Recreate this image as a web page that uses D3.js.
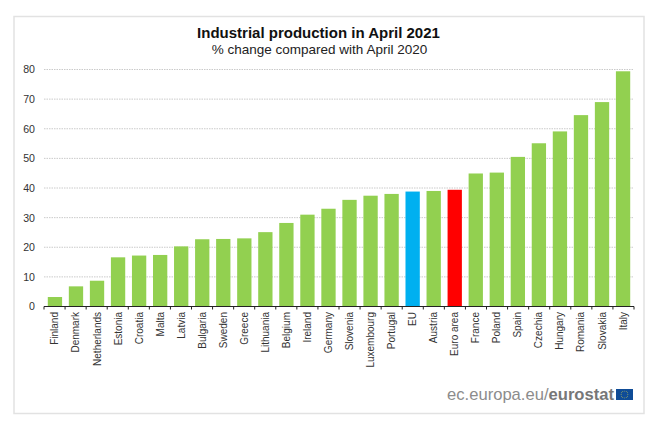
<!DOCTYPE html>
<html>
<head>
<meta charset="utf-8">
<script src="https://cdn.jsdelivr.net/npm/d3@7"></script>
<style>
  html, body { margin: 0; padding: 0; background: #fff; }
  svg { display: block; font-family: "Liberation Sans", Arial, sans-serif; }
</style>
</head>
<body>
<svg id="chart" width="659" height="427"></svg>
<script>
const countries = ['Finland', 'Denmark', 'Netherlands', 'Estonia', 'Croatia', 'Malta', 'Latvia',
  'Bulgaria', 'Sweden', 'Greece', 'Lithuania', 'Belgium', 'Ireland', 'Germany', 'Slovenia',
  'Luxembourg', 'Portugal', 'EU', 'Austria', 'Euro area', 'France', 'Poland', 'Spain', 'Czechia',
  'Hungary', 'Romania', 'Slovakia', 'Italy'];
const changes = [3.2, 6.8, 8.7, 16.6, 17.2, 17.4, 20.3, 22.7, 22.8, 23.0, 25.1, 28.2, 31.0, 33.0,
  36.0, 37.4, 38.0, 38.8, 39.0, 39.4, 44.9, 45.2, 50.5, 55.1, 59.1, 64.6, 69.0, 79.4];
const yTicks = [0, 10, 20, 30, 40, 50, 60, 70, 80];
const highlight = { 'EU': '#00b0f0', 'Euro area': '#ff0000' };

const svg = d3.select('#chart');

// outer frame
svg.append('rect')
  .attr('x', 14)
  .attr('y', 16.5)
  .attr('width', 630)
  .attr('height', 397)
  .attr('fill', '#fff')
  .attr('stroke', '#e2e2e2')
  .attr('stroke-width', 1.5);

const x = d3.scaleBand()
  .domain(countries)
  .range([44, 634])
  .paddingInner(0.32)
  .paddingOuter(0.18);

const y = d3.scaleLinear()
  .domain([0, 80])
  .range([306.5, 69.5]);

svg.append('text')
  .attr('x', 318.5)
  .attr('y', 38)
  .attr('text-anchor', 'middle')
  .attr('font-size', 15)
  .attr('font-weight', 'bold')
  .attr('fill', '#111')
  .text('Industrial production in April 2021');

svg.append('text')
  .attr('x', 319.5)
  .attr('y', 54)
  .attr('text-anchor', 'middle')
  .attr('font-size', 13.5)
  .attr('fill', '#222')
  .text('% change compared with April 2020');

// gridlines
svg.append('g')
  .selectAll('line')
  .data(yTicks.filter(d => d > 0))
  .enter()
  .append('line')
  .attr('x1', 44)
  .attr('x2', 634)
  .attr('y1', d => y(d))
  .attr('y2', d => y(d))
  .attr('stroke', '#bdbdbd')
  .attr('stroke-width', 0.8)
  .attr('stroke-dasharray', '1.5 1');

svg.append('g')
  .selectAll('rect')
  .data(countries)
  .enter()
  .append('rect')
  .attr('x', d => x(d))
  .attr('y', (d, i) => y(changes[i]))
  .attr('width', x.bandwidth())
  .attr('height', (d, i) => y(0) - y(changes[i]))
  .attr('fill', d => highlight[d] || '#92d050');

const yAxis = d3.axisLeft(y)
  .tickValues(yTicks)
  .tickSize(0)
  .tickPadding(9);
const yAxisG = svg.append('g')
  .attr('transform', 'translate(44, 0)')
  .call(yAxis);
yAxisG.select('.domain').remove();
yAxisG.selectAll('text')
  .attr('font-size', 10.6)
  .attr('font-family', '"Liberation Sans", Arial, sans-serif')
  .attr('fill', '#333');

// category axis: ticks sit between the bars, labels run bottom to top
svg.append('line')
  .attr('x1', 44)
  .attr('x2', 634)
  .attr('y1', y(0))
  .attr('y2', y(0))
  .attr('stroke', '#222')
  .attr('stroke-width', 1);

const step = (634 - 44) / countries.length;
svg.append('g')
  .selectAll('line')
  .data(countries.concat(['end']))
  .enter()
  .append('line')
  .attr('x1', (d, i) => 44 + i * step)
  .attr('x2', (d, i) => 44 + i * step)
  .attr('y1', y(0))
  .attr('y2', y(0) + 3)
  .attr('stroke', '#222')
  .attr('stroke-width', 1);

svg.append('g')
  .selectAll('text')
  .data(countries)
  .enter()
  .append('text')
  .attr('transform', d => `translate(${x(d) + x.bandwidth() / 2 + 3.5}, 312) rotate(-90)`)
  .attr('text-anchor', 'end')
  .attr('font-size', 10)
  .attr('fill', '#333')
  .text(d => d);

// eurostat logo
const logo = svg.append('text')
  .attr('x', 614)
  .attr('y', 400)
  .attr('text-anchor', 'end')
  .attr('font-size', 16.6)
  .attr('fill', '#8c8c8c');
logo.append('tspan').text('ec.europa.eu/');
logo.append('tspan')
  .attr('font-weight', 'bold')
  .attr('fill', '#777')
  .text('eurostat');

svg.append('rect')
  .attr('x', 616)
  .attr('y', 389)
  .attr('width', 17)
  .attr('height', 11)
  .attr('fill', '#0f4c97');

svg.append('g')
  .selectAll('circle')
  .data(d3.range(12))
  .enter()
  .append('circle')
  .attr('cx', d => 624.5 + 3.4 * Math.cos(d * Math.PI / 6))
  .attr('cy', d => 394.5 + 3.4 * Math.sin(d * Math.PI / 6))
  .attr('r', 0.45)
  .attr('fill', '#d8d24a');
</script>
</body>
</html>
